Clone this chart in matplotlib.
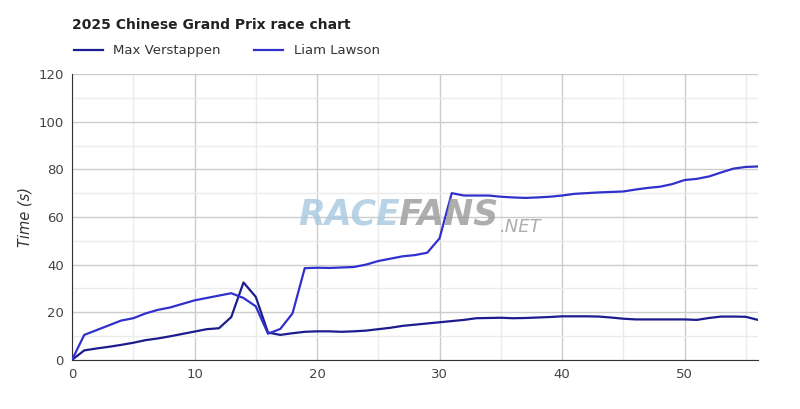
import matplotlib
matplotlib.use("Agg")
import matplotlib.pyplot as plt
from matplotlib.ticker import MultipleLocator

laps = list(range(57))
verstappen = [0, 4, 4.8, 5.5, 6.3, 7.2, 8.3, 9, 9.9, 10.9, 11.9, 12.9, 13.3, 18, 32.5, 26.5,
              11.5, 10.5, 11.2, 11.8, 12, 12, 11.8, 12, 12.3, 12.9, 13.5, 14.3, 14.8, 15.3,
              15.8, 16.3, 16.8, 17.5, 17.6, 17.7, 17.5, 17.6, 17.8, 18, 18.3, 18.3, 18.3,
              18.2, 17.8, 17.3, 17, 17, 17, 17, 17, 16.8, 17.6, 18.2, 18.2, 18.1, 16.8]
lawson = [0, 10.5, 12.5, 14.5, 16.5, 17.5, 19.5, 21, 22, 23.5, 25, 26, 27, 28, 26, 22.5,
          11, 13, 19.5, 38.5, 38.7, 38.6, 38.8, 39, 40, 41.5, 42.5, 43.5, 44, 45, 51, 70,
          69, 69, 69, 68.5, 68.2, 68, 68.2, 68.5, 69, 69.7, 70, 70.3, 70.5, 70.7, 71.5,
          72.2, 72.7, 73.8, 75.5, 76, 77, 78.7, 80.3, 81, 81.2]

fig = plt.figure(figsize=(8, 4.09), dpi=100)
ax = fig.add_axes([0.09, 0.12, 0.8575, 0.699])

ax.plot(laps, verstappen, color="#1c1c8f", lw=1.6, label="Max Verstappen", zorder=3)
ax.plot(laps, lawson, color="#3030cc", lw=1.6, label="Liam Lawson", zorder=3)

ax.set_xlim(0, 56)
ax.set_ylim(0, 120)
ax.xaxis.set_major_locator(MultipleLocator(10))
ax.xaxis.set_minor_locator(MultipleLocator(5))
ax.yaxis.set_major_locator(MultipleLocator(20))
ax.yaxis.set_minor_locator(MultipleLocator(10))
ax.grid(which="major", color="#cccccc", lw=1)
ax.grid(which="minor", color="#ebebeb", lw=1)
ax.set_axisbelow(True)
for s in ["top", "right"]:
    ax.spines[s].set_visible(False)
ax.spines["left"].set_color("#333333")
ax.spines["bottom"].set_color("#333333")
ax.tick_params(which="both", length=0, labelsize=9.5, colors="#444444", pad=6)
ax.set_ylabel("Time (s)", fontstyle="italic", fontsize=10.5, color="#333333")

# watermark
fig.text(0.50, 0.475, "RACE", fontsize=25, fontweight="bold", fontstyle="italic",
         color="#a8c8e0", alpha=0.8, ha="right", va="center", zorder=1)
fig.text(0.498, 0.475, "FANS", fontsize=25, fontweight="bold", fontstyle="italic",
         color="#9a9a9a", alpha=0.8, ha="left", va="center", zorder=1)
fig.text(0.625, 0.445, ".NET", fontsize=13, fontstyle="italic",
         color="#9a9a9a", alpha=0.8, ha="left", va="center", zorder=1)

fig.text(0.09, 0.94, "2025 Chinese Grand Prix race chart", fontsize=10,
         fontweight="bold", color="#222222", va="center")
ax.legend(loc="lower left", bbox_to_anchor=(-0.005, 1.04), ncol=2, frameon=False,
          fontsize=9.5, handlelength=2.2, columnspacing=2.5, borderaxespad=0,
          labelcolor="#333333")

fig.savefig("out.png", dpi=100)
